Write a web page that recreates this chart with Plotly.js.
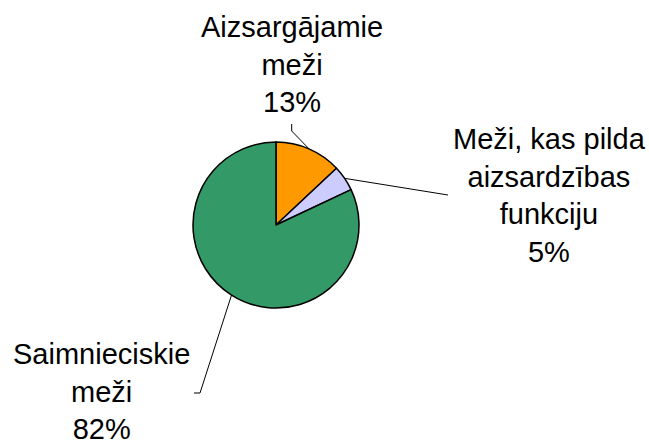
<!DOCTYPE html>
<html>
<head>
<meta charset="utf-8">
<script src="https://cdn.plot.ly/plotly-3.0.1.min.js"></script>
<style>html,body{margin:0;padding:0;background:#fff;}#chart{width:649px;height:444px;}</style>
</head>
<body>
<div id="chart"></div>
<script>
// Data
const categories = ["Aizsargājamie meži", "Meži, kas pilda aizsardzības funkciju", "Saimnieciskie meži"];
const labelLines = [["Aizsargājamie", "meži"], ["Meži, kas pilda", "aizsardzības", "funkciju"], ["Saimnieciskie", "meži"]];
const values = [13, 5, 82];
const colors = ["#FF9900", "#CCCCFF", "#339966"];

// Layout geometry (pixels)
const W = 649, H = 444;
const cx = 276, cy = 225, R = 83;
// label anchor (text centre) and elbow points for leader lines
const labelPos = [[291.5, 65], [549, 196], [101.5, 391]];
const leaderOuter = [[[291.7, 124], [291.7, 131]], [[448, 195]], [[194, 393], [200, 393]]];

const px = x => x / W;
const py = y => 1 - y / H;

const total = values.reduce((a, b) => a + b, 0);
let cum = 0;
const shapes = [];
const annotations = [];
values.forEach((v, i) => {
  const mid = (cum + v / 2) / total * 2 * Math.PI;
  cum += v;
  const ex = cx + R * Math.sin(mid), ey = cy - R * Math.cos(mid);
  const pts = leaderOuter[i].concat([[ex, ey]]);
  let d = "M" + pts.map(p => px(p[0]).toFixed(5) + "," + py(p[1]).toFixed(5)).join(" L");
  shapes.push({type: "path", xref: "paper", yref: "paper", path: d, line: {color: "#000", width: 1}});
  const pct = Math.round(v / total * 100) + "%";
  annotations.push({
    xref: "paper", yref: "paper", x: px(labelPos[i][0]), y: py(labelPos[i][1]),
    xanchor: "center", yanchor: "middle", showarrow: false, align: "center",
    text: labelLines[i].concat([pct]).join("<br>"),
    font: {family: "Liberation Sans, Arial, sans-serif", size: 29, color: "#000"}
  });
});

const trace = {
  type: "pie",
  labels: categories,
  values: values,
  sort: false,
  direction: "clockwise",
  rotation: 0,
  textinfo: "none",
  hoverinfo: "label+percent",
  marker: {colors: colors, line: {color: "#000", width: 1.5}},
  domain: {x: [px(cx - R), px(cx + R)], y: [py(cy + R), py(cy - R)]},
  showlegend: false
};

const layout = {
  width: W, height: H,
  margin: {l: 0, r: 0, t: 0, b: 0},
  paper_bgcolor: "#fff",
  showlegend: false,
  shapes: shapes,
  annotations: annotations
};

Plotly.newPlot("chart", [trace], layout, {displayModeBar: false, staticPlot: true});
</script>
</body>
</html>
